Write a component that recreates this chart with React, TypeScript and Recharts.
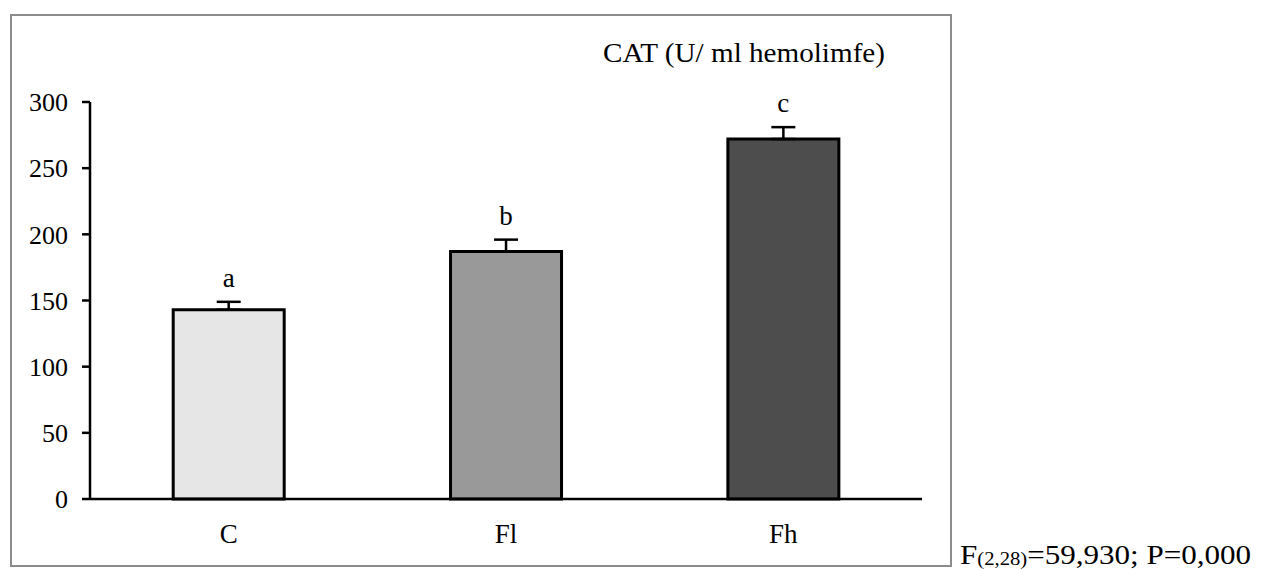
import React from 'react';
import { BarChart, Bar, XAxis, YAxis, ErrorBar, Cell, LabelList } from 'recharts';

const categories = ['C', 'Fl', 'Fh'];
const means = [143, 187, 272];
const errors = [6, 9, 9];
const letters = ['a', 'b', 'c'];
const fills = ['#e6e6e6', '#999999', '#4d4d4d'];
const yTicks = [0, 50, 100, 150, 200, 250, 300];
const title = 'CAT (U/ ml hemolimfe)';

const data = categories.map((c, i) => ({
  name: c,
  value: means[i],
  err: [0, errors[i]],
  errUp: errors[i],
  letter: letters[i],
}));

const FONT = '"Liberation Serif", "Times New Roman", serif';

const LetterLabel = (props: any) => {
  const { x, y, width, height, index } = props;
  const d = data[index];
  if (!d) return null;
  const pxPerUnit = height / d.value;
  const topY = y - d.errUp * pxPerUnit;
  return (
    <text x={x + width / 2} y={topY - 15} textAnchor="middle" fontFamily={FONT} fontSize={27} fill="#000">
      {d.letter}
    </text>
  );
};

export default function App() {
  return (
    <div style={{ position: 'absolute', left: 0, top: 0, width: 1262, height: 570, background: '#fff', overflow: 'hidden' }}>
      <div
        style={{
          position: 'absolute',
          left: 10,
          top: 14,
          width: 942,
          height: 553,
          border: '2px solid #8c8c8c',
          boxSizing: 'border-box',
        }}
      />
      <div style={{ position: 'absolute', left: 0, top: 0 }}>
        <BarChart
          width={951}
          height={570}
          data={data}
          margin={{ top: 102, right: 29, bottom: 31, left: 0 }}
          barCategoryGap="30%"
        >
          <XAxis
            dataKey="name"
            axisLine={{ stroke: '#000', strokeWidth: 2.5 }}
            tickLine={false}
            tickSize={0}
            tickMargin={25}
            height={40}
            tick={{ fontFamily: FONT, fontSize: 27, fill: '#000' }}
            interval={0}
          />
          <YAxis
            domain={[0, 300]}
            ticks={yTicks}
            width={90}
            axisLine={{ stroke: '#000', strokeWidth: 2.5 }}
            tickLine={{ stroke: '#000', strokeWidth: 2.5 }}
            tickSize={8}
            tickMargin={14}
            interval={0}
            tick={{ fontFamily: FONT, fontSize: 26, fill: '#000' }}
          />
          <Bar dataKey="value" stroke="#000" strokeWidth={3} isAnimationActive={false}>
            {data.map((d, i) => (
              <Cell key={d.name} fill={fills[i]} />
            ))}
            <ErrorBar dataKey="err" direction="y" width={12} stroke="#000" strokeWidth={2.5} />
            <LabelList dataKey="value" content={LetterLabel} />
          </Bar>
        </BarChart>
      </div>
      <svg width={1262} height={570} style={{ position: 'absolute', left: 0, top: 0, pointerEvents: 'none' }}>
        <text
          x={603}
          y={62}
          fontFamily={FONT}
          fontSize={28}
          fill="#000"
          textLength={282}
          lengthAdjust="spacingAndGlyphs"
        >
          {title}
        </text>
        <g transform="translate(960,564) scale(1.15,1)">
          <text x={0} y={0} fontFamily={FONT} fontSize={27} fill="#000">
            F
            <tspan fontSize={18} dy={1}>(2,28)</tspan>
            <tspan dy={-1}>=59,930; P=0,000</tspan>
          </text>
        </g>
      </svg>
    </div>
  );
}
